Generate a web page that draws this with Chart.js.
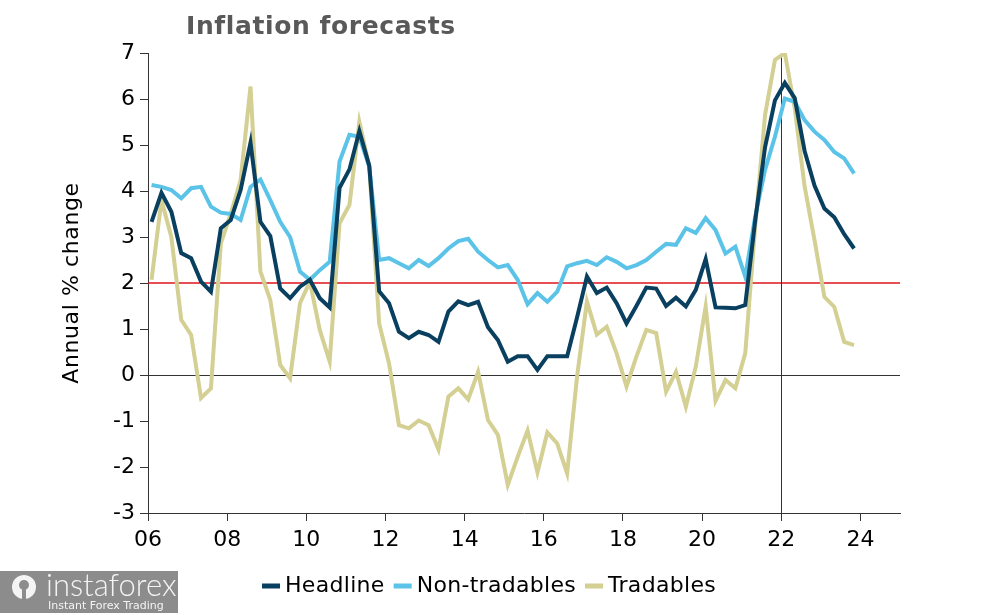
<!DOCTYPE html>
<html>
<head>
<meta charset="utf-8">
<script src="https://cdn.jsdelivr.net/npm/chart.js@4"></script>
<style>
  html, body { margin: 0; padding: 0; background: #fff; }
  #wrap { position: relative; width: 1002px; height: 615px; }
</style>
</head>
<body>
<div id="wrap"><canvas id="chart" width="1002" height="615"></canvas></div>
<script>
// quarterly, 2006Q1 .. 2023Q4
const firstYear = 2006;
const lastYear = 2023;
const quarters = [];
for (let y = firstYear; y <= lastYear; y++) {
    for (let q = 1; q <= 4; q++) quarters.push(y + "Q" + q);
}

const headline = [
    3.33, 3.96, 3.55, 2.65, 2.54, 2.03, 1.81, 3.19,
    3.37, 4.02, 5.05, 3.33, 3.02, 1.88, 1.67, 1.92,
    2.07, 1.67, 1.47, 4.07, 4.47, 5.3, 4.55, 1.82,
    1.56, 0.94, 0.8, 0.94, 0.87, 0.72, 1.38, 1.6,
    1.52, 1.59, 1.04, 0.76, 0.29, 0.41, 0.41, 0.11,
    0.41, 0.41, 0.41, 1.25, 2.14, 1.78, 1.9, 1.56,
    1.12, 1.5, 1.9, 1.88, 1.5, 1.68, 1.49, 1.85,
    2.52, 1.47, 1.46, 1.45, 1.52, 3.35, 4.95, 5.97,
    6.35, 6.02, 4.87, 4.12, 3.62, 3.43, 3.06, 2.75
];

const nonTradables = [
    4.13, 4.09, 4.02, 3.84, 4.06, 4.09, 3.66, 3.53,
    3.5, 3.37, 4.09, 4.25, 3.8, 3.33, 3.0, 2.25,
    2.07, 2.28, 2.46, 4.64, 5.22, 5.18, 4.53, 2.5,
    2.54, 2.43, 2.32, 2.5, 2.37, 2.54, 2.75, 2.91,
    2.96, 2.68, 2.5, 2.34, 2.39, 2.07, 1.54, 1.78,
    1.59, 1.81, 2.36, 2.43, 2.48, 2.39, 2.56, 2.46,
    2.32, 2.39, 2.5, 2.68, 2.85, 2.83, 3.19, 3.09,
    3.41, 3.15, 2.64, 2.79, 2.14, 3.44, 4.46, 5.18,
    6.01, 5.94, 5.54, 5.29, 5.11, 4.85, 4.71, 4.38
];

const tradables = [
    2.07, 3.8, 3.0, 1.2, 0.87, -0.5, -0.29, 2.86,
    3.5, 4.24, 6.27, 2.25, 1.63, 0.22, -0.07, 1.56,
    2.03, 0.98, 0.29, 3.3, 3.7, 5.5, 4.53, 1.12,
    0.25, -1.09, -1.16, -0.99, -1.09, -1.62, -0.47, -0.29,
    -0.53, 0.07, -0.98, -1.3, -2.39, -1.78, -1.21, -2.12,
    -1.25, -1.49, -2.14, -0.04, 1.6, 0.88, 1.05, 0.47,
    -0.25, 0.4, 0.98, 0.91, -0.36, 0.07, -0.69, 0.18,
    1.49, -0.56, -0.11, -0.29, 0.47, 3.22, 5.65, 6.85,
    7.0, 5.8, 4.1, 2.93, 1.7, 1.48, 0.72, 0.65
];

const xTicks = [2006, 2008, 2010, 2012, 2014, 2016, 2018, 2020, 2022, 2024];
const targetLevel = 2;
const markerYear = 2022;

function quarterToX(label) {
    const year = parseInt(label.slice(0, 4), 10);
    const q = parseInt(label.slice(5), 10);
    return year + (q - 1) / 4 + 0.09;
}

function toPoints(values) {
    return values.map((v, i) => ({ x: quarterToX(quarters[i]), y: v }));
}

const FONT = "'DejaVu Sans', Verdana, sans-serif";

const decorPlugin = {
    id: "decor",
    beforeDatasetsDraw(chart) {
        const { ctx, chartArea, scales } = chart;
        const y0 = scales.y.getPixelForValue(0);
        const y2 = scales.y.getPixelForValue(targetLevel);
        const xm = scales.x.getPixelForValue(markerYear);
        ctx.save();
        // target line, 2px so the red survives compression
        ctx.lineWidth = 1.6;
        ctx.strokeStyle = "#e0151b";
        ctx.beginPath();
        ctx.moveTo(chartArea.left, Math.round(y2));
        ctx.lineTo(chartArea.right, Math.round(y2));
        ctx.stroke();
        ctx.lineWidth = 1;
        ctx.strokeStyle = "#333";
        ctx.beginPath();
        ctx.moveTo(chartArea.left, Math.round(y0) + 0.5);
        ctx.lineTo(chartArea.right, Math.round(y0) + 0.5);
        ctx.stroke();
        ctx.beginPath();
        ctx.moveTo(Math.round(xm) + 0.5, chartArea.top);
        ctx.lineTo(Math.round(xm) + 0.5, chartArea.bottom);
        ctx.stroke();
        ctx.restore();
    },
    afterDraw(chart) {
        const { ctx, chartArea } = chart;

        // title
        ctx.save();
        ctx.fillStyle = "#595959";
        ctx.font = "bold 25px " + FONT;
        ctx.letterSpacing = "0.6px";
        ctx.textBaseline = "middle";
        ctx.textAlign = "left";
        ctx.fillText("Inflation forecasts", 186, 27);
        ctx.restore();

        // y axis title
        ctx.save();
        ctx.translate(72, (chartArea.top + chartArea.bottom) / 2);
        ctx.rotate(-Math.PI / 2);
        ctx.fillStyle = "#000";
        ctx.font = "22px " + FONT;
        ctx.letterSpacing = "0.6px";
        ctx.textAlign = "center";
        ctx.textBaseline = "middle";
        ctx.fillText("Annual % change", 0, 0);
        ctx.restore();

        // legend
        ctx.save();
        ctx.font = "22px " + FONT;
        ctx.letterSpacing = "0.3px";
        ctx.textBaseline = "middle";
        ctx.textAlign = "left";
        const items = chart.data.datasets.map(d => ({
            label: d.label, color: d.borderColor, w: ctx.measureText(d.label).width
        }));
        const dash = 18, gapIn = 5, gapOut = 9;
        const total = items.reduce((s, it) => s + dash + gapIn + it.w, 0) + gapOut * (items.length - 1);
        let lx = 489 - total / 2;
        const ly = 586;
        items.forEach(it => {
            ctx.fillStyle = it.color;
            ctx.fillRect(lx, ly - 2.5, dash, 5);
            lx += dash + gapIn;
            ctx.fillStyle = "#000";
            ctx.fillText(it.label, lx, ly);
            lx += it.w + gapOut;
        });
        ctx.restore();

        // watermark box
        ctx.save();
        ctx.fillStyle = "#8c8c8c";
        ctx.fillRect(0, 571, 178, 42);
        ctx.fillStyle = "#f4f4f4";
        ctx.beginPath();
        ctx.arc(24, 587, 12, 0, Math.PI * 2);
        ctx.fill();
        ctx.fillStyle = "#8c8c8c";
        ctx.beginPath();
        ctx.arc(24, 585, 5, 0, Math.PI * 2);
        ctx.fill();
        ctx.fillRect(22, 588, 4, 11);
        ctx.fillStyle = "#f4f4f4";
        ctx.font = "300 31px Lato, " + FONT;
        ctx.textBaseline = "alphabetic";
        ctx.fillText("instaforex", 46, 596);
        ctx.font = "11px " + FONT;
        ctx.fillText("Instant Forex Trading", 48, 609);
        ctx.restore();
    }
};

const ctx = document.getElementById("chart").getContext("2d");
new Chart(ctx, {
    type: "line",
    data: {
        datasets: [
            { label: "Headline", data: toPoints(headline), borderColor: "#093f5f", backgroundColor: "#093f5f" },
            { label: "Non-tradables", data: toPoints(nonTradables), borderColor: "#5bc3e8", backgroundColor: "#5bc3e8" },
            { label: "Tradables", data: toPoints(tradables), borderColor: "#d4cf92", backgroundColor: "#d4cf92" }
        ]
    },
    options: {
        responsive: false,
        animation: false,
        elements: {
            line: { borderWidth: 4, tension: 0 },
            point: { radius: 0 }
        },
        layout: { padding: { top: 53, right: 102, left: 0, bottom: 0 } },
        plugins: {
            title: { display: false },
            tooltip: { enabled: false },
            legend: { display: false }
        },
        scales: {
            x: {
                type: "linear",
                min: 2006,
                max: 2025,
                afterBuildTicks: s => { s.ticks = xTicks.map(v => ({ value: v })); },
                afterFit: s => { s.height = 102; },
                ticks: {
                    color: "#000",
                    font: { family: FONT, size: 22 },
                    padding: 6,
                    maxRotation: 0,
                    callback: v => String(v).slice(2)
                },
                grid: { drawOnChartArea: false, tickLength: 8, color: "#333" },
                border: { color: "#333", width: 1 }
            },
            y: {
                min: -3,
                max: 7,
                afterFit: s => { s.width = 148; },
                ticks: {
                    stepSize: 1,
                    color: "#000",
                    font: { family: FONT, size: 22 },
                    padding: 5
                },
                grid: { drawOnChartArea: false, tickLength: 8, color: "#333" },
                border: { color: "#333", width: 1 }
            }
        }
    },
    plugins: [decorPlugin]
});
</script>
</body>
</html>
